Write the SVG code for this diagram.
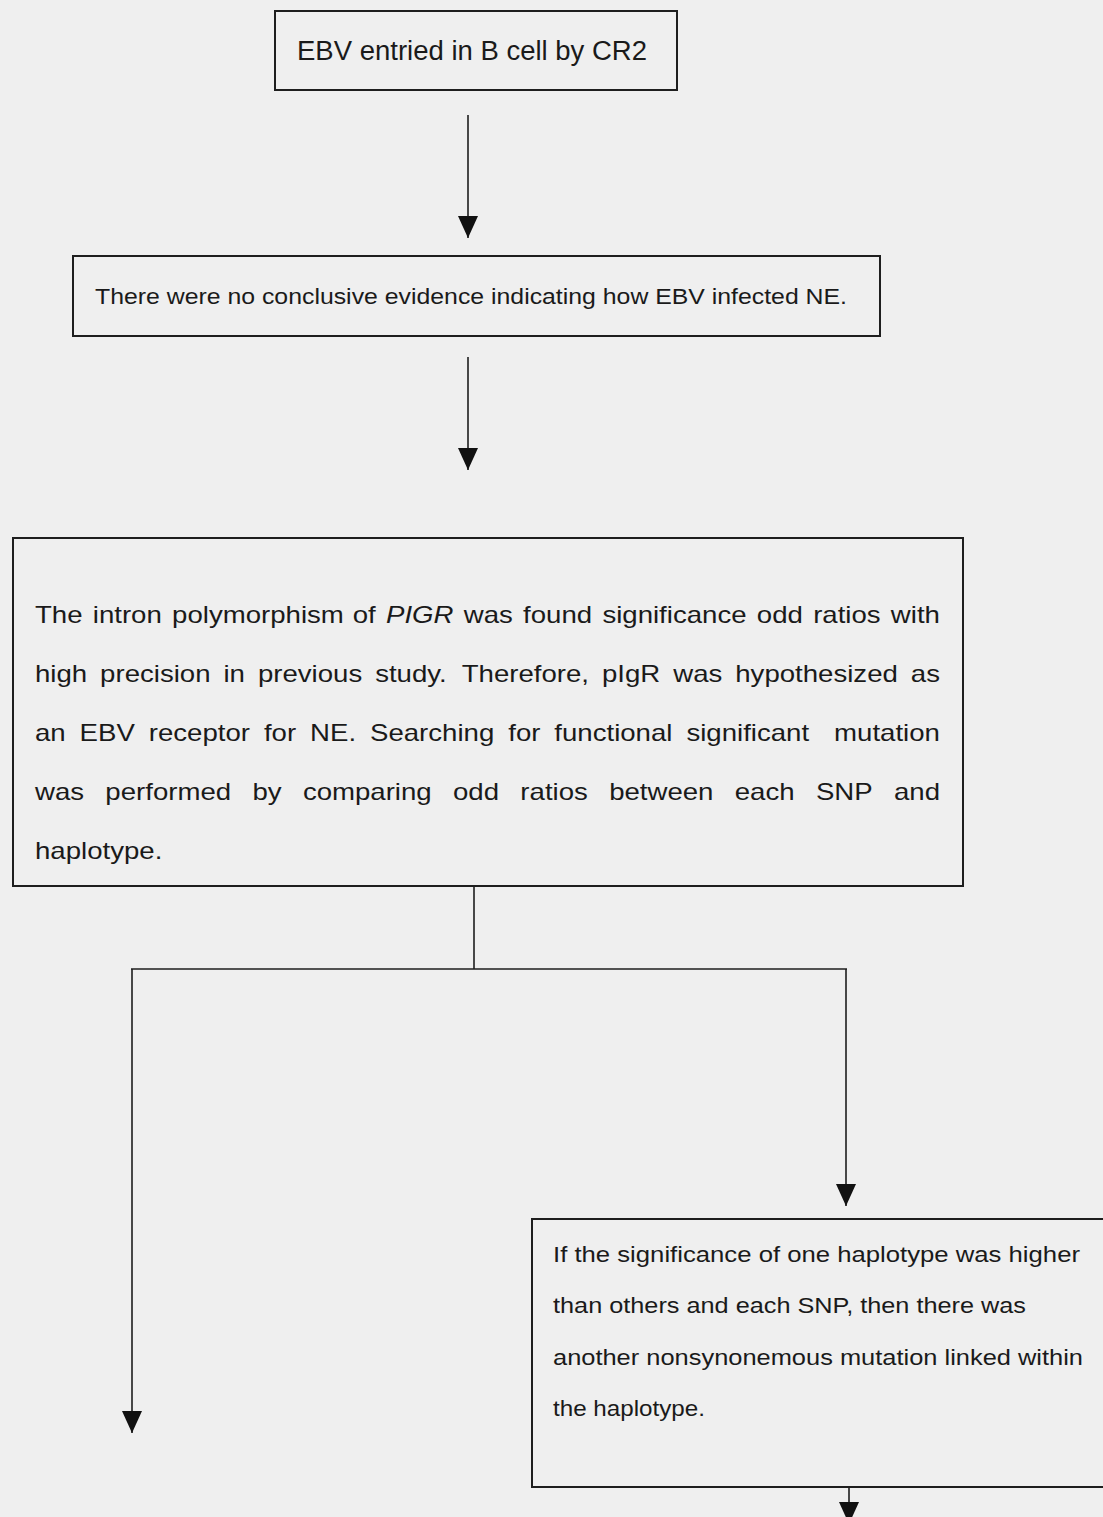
<svg xmlns="http://www.w3.org/2000/svg" width="1103" height="1517" viewBox="0 0 1103 1517">
  <defs>
    <style>
      .bg { fill: #efefef; }
      .box { fill: none; stroke: #1e1e1e; stroke-width: 2; }
      .conn { fill: none; stroke: #1e1e1e; stroke-width: 1.6; }
      .t { font-family: "Liberation Sans", Arial, sans-serif; fill: #1a1a1a; }
      .it { font-style: italic; }
    </style>
    <marker id="ah" viewBox="0 0 22 20" refX="22" refY="10" markerWidth="22" markerHeight="20" markerUnits="userSpaceOnUse" orient="auto">
      <path d="M0,0 L22,10 L0,20 z" fill="#111"/>
    </marker>
  </defs>

  <rect class="bg" x="0" y="0" width="1103" height="1517"/>

  <g id="connectors">
    <line class="conn" x1="468" y1="115" x2="468" y2="238" marker-end="url(#ah)"/>
    <line class="conn" x1="468" y1="357" x2="468" y2="470" marker-end="url(#ah)"/>
    <line class="conn" x1="474" y1="886" x2="474" y2="969"/>
    <line class="conn" x1="131" y1="969" x2="847" y2="969"/>
    <line class="conn" x1="132" y1="969" x2="132" y2="1433" marker-end="url(#ah)"/>
    <line class="conn" x1="846" y1="969" x2="846" y2="1206" marker-end="url(#ah)"/>
    <line class="conn" x1="849" y1="1487" x2="849" y2="1524" marker-end="url(#ah)"/>
  </g>

  <g id="node-ebv-b-cell">
    <rect class="box" x="275" y="11" width="402" height="79"/>
    <text class="t" x="297" y="60" font-size="27" textLength="350" lengthAdjust="spacingAndGlyphs">EBV entried in B cell by CR2</text>
  </g>

  <g id="node-no-evidence">
    <rect class="box" x="73" y="256" width="807" height="80"/>
    <text class="t" x="95" y="304" font-size="22" textLength="752" lengthAdjust="spacingAndGlyphs">There were no conclusive evidence indicating how EBV infected NE.</text>
  </g>

  <g id="node-pigr-hypothesis">
    <rect class="box" x="13" y="538" width="950" height="348"/>
    <g transform="scale(1.2 1)" class="t" font-size="23">
      <text y="623"><tspan x="29.17">The</tspan> <tspan x="77.34">intron</tspan> <tspan x="143.42">polymorphism</tspan> <tspan x="293.94">of</tspan> <tspan x="321.68" class="it">PIGR</tspan> <tspan x="386.46">was</tspan> <tspan x="435.90">found</tspan> <tspan x="502.00">significance</tspan> <tspan x="630.70">odd</tspan> <tspan x="677.62">ratios</tspan> <tspan x="742.40">with</tspan></text>
      <text y="682"><tspan x="29.17">high</tspan> <tspan x="83.43">precision</tspan> <tspan x="186.24">in</tspan> <tspan x="214.93">previous</tspan> <tspan x="312.63">study.</tspan> <tspan x="384.79">Therefore,</tspan> <tspan x="501.68">pIgR</tspan> <tspan x="561.05">was</tspan> <tspan x="612.73">hypothesized</tspan> <tspan x="759.04">as</tspan></text>
      <text y="741"><tspan x="29.17">an</tspan> <tspan x="66.35">EBV</tspan> <tspan x="123.98">receptor</tspan> <tspan x="219.96">for</tspan> <tspan x="258.41">NE.</tspan> <tspan x="308.36">Searching</tspan> <tspan x="423.52">for</tspan> <tspan x="461.97">functional</tspan> <tspan x="572.02">significant</tspan> <tspan x="695.08">mutation</tspan></text>
      <text y="800"><tspan x="29.17">was</tspan> <tspan x="87.81">performed</tspan> <tspan x="210.37">by</tspan> <tspan x="252.41">comparing</tspan> <tspan x="377.53">odd</tspan> <tspan x="433.64">ratios</tspan> <tspan x="507.63">between</tspan> <tspan x="612.32">each</tspan> <tspan x="679.93">SNP</tspan> <tspan x="744.98">and</tspan></text>
      <text y="859" x="29.17">haplotype.</text>
    </g>
  </g>

  <g id="node-haplotype-significance">
    <rect class="box" x="532" y="1219" width="590" height="268"/>
    <text class="t" x="553" y="1262" font-size="22" textLength="527" lengthAdjust="spacingAndGlyphs">If the significance of one haplotype was higher</text>
    <text class="t" x="553" y="1313" font-size="22" textLength="473" lengthAdjust="spacingAndGlyphs">than others and each SNP, then there was</text>
    <text class="t" x="553" y="1365" font-size="22" textLength="530" lengthAdjust="spacingAndGlyphs">another nonsynonemous mutation linked within</text>
    <text class="t" x="553" y="1416" font-size="22" textLength="152" lengthAdjust="spacingAndGlyphs">the haplotype.</text>
  </g>
</svg>
